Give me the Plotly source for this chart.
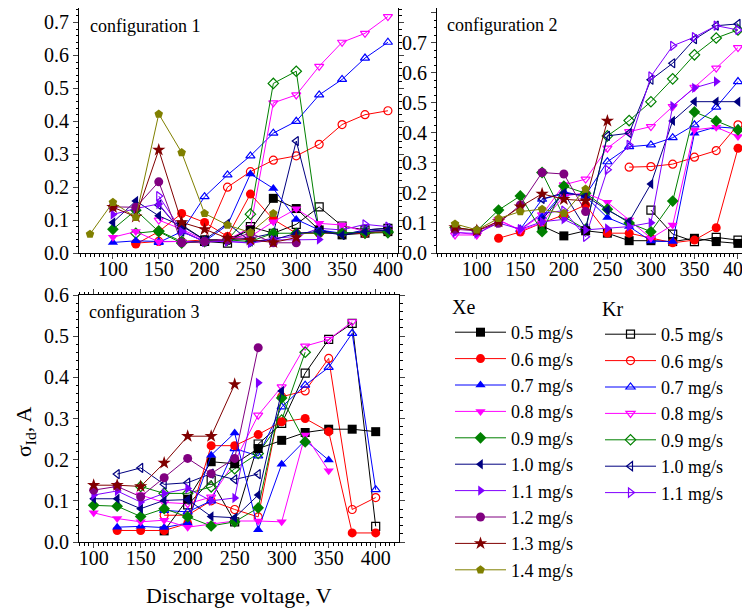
import plotly.graph_objects as go

# Discharge voltage grid (V)
V = [75, 100, 125, 150, 175, 200, 225, 250, 275, 300, 325, 350, 375, 400]
N = None

# ---------------- configuration 1 ----------------
c1_xe_05 = [N, N, N, N, 0.085, 0.04, 0.04, 0.07, 0.166, 0.135, 0.07, 0.055, 0.06, 0.065]
c1_xe_06 = [N, N, 0.027, 0.065, 0.12, 0.093, 0.05, 0.179, 0.102, 0.06, 0.06, 0.06, 0.06, 0.065]
c1_xe_07 = [N, 0.032, 0.037, 0.035, 0.035, 0.035, 0.085, 0.24, 0.196, 0.102, 0.07, 0.06, 0.065, 0.07]
c1_xe_08 = [N, 0.048, 0.065, 0.034, 0.035, 0.03, 0.045, 0.05, 0.095, 0.134, 0.09, 0.085, 0.065, 0.065]
c1_xe_09 = [N, 0.072, 0.13, 0.065, 0.03, 0.035, 0.04, 0.035, 0.06, 0.06, 0.06, 0.06, 0.062, 0.065]
c1_xe_10 = [N, 0.093, 0.158, 0.113, 0.082, 0.04, 0.09, 0.035, 0.04, 0.06, 0.065, 0.055, 0.065, 0.07]
c1_xe_11 = [N, 0.117, 0.135, 0.149, 0.065, 0.035, 0.035, 0.03, 0.04, 0.04, 0.041, N, N, N]
c1_xe_12 = [N, 0.14, 0.139, 0.216, 0.031, 0.035, 0.04, 0.06, 0.031, 0.031, N, N, N, N]
c1_xe_13 = [N, 0.139, 0.11, 0.313, 0.093, 0.072, 0.045, 0.04, 0.032, 0.047, N, N, N, N]
c1_xe_14 = [0.057, 0.154, 0.108, 0.422, 0.305, 0.12, 0.085, 0.062, 0.12, N, N, N, N, N]
c1_kr_05 = [N, N, N, N, N, 0.035, 0.03, 0.08, 0.06, 0.087, 0.14, 0.082, 0.07, 0.075]
c1_kr_06 = [N, N, 0.03, 0.035, 0.035, 0.04, 0.2, 0.247, 0.282, 0.295, 0.33, 0.39, 0.42, 0.432]
c1_kr_07 = [N, N, N, 0.032, 0.065, 0.171, 0.237, 0.295, 0.364, 0.40, 0.48, 0.527, 0.592, 0.64]
c1_kr_08 = [N, N, N, 0.1, 0.072, 0.04, 0.04, 0.077, 0.456, 0.48, 0.567, 0.64, 0.667, 0.718]
c1_kr_09 = [N, N, 0.06, 0.067, 0.035, 0.035, 0.04, 0.118, 0.515, 0.552, 0.065, 0.06, 0.06, 0.062]
c1_kr_10 = [N, N, N, 0.146, 0.065, 0.035, 0.04, 0.045, 0.06, 0.34, 0.07, 0.055, 0.07, 0.075]
c1_kr_11 = [N, N, N, 0.173, 0.068, 0.034, 0.035, 0.032, 0.045, 0.05, 0.075, 0.07, 0.087, 0.08]

# ---------------- configuration 2 ----------------
c2_xe_05 = [N, N, N, N, 0.09, 0.057, 0.074, 0.066, 0.041, 0.041, 0.038, 0.049, 0.038, 0.032]
c2_xe_06 = [N, N, 0.049, 0.07, 0.1, 0.127, 0.16, 0.066, 0.066, 0.049, 0.034, 0.043, 0.084, 0.349]
c2_xe_07 = [N, N, N, N, 0.12, 0.204, 0.188, 0.118, 0.088, 0.04, 0.038, 0.399, 0.42, 0.415]
c2_xe_08 = [0.07, 0.06, 0.11, 0.075, 0.1, 0.19, 0.2, 0.169, 0.11, 0.049, 0.093, 0.41, 0.419, 0.388]
c2_xe_09 = [0.085, 0.074, 0.143, 0.19, 0.071, 0.223, 0.199, 0.146, 0.1, 0.071, 0.173, 0.47, 0.44, 0.41]
c2_xe_10 = [N, N, N, N, 0.11, 0.2, 0.19, 0.143, 0.104, 0.23, 0.44, 0.504, 0.504, 0.504]
c2_xe_11 = [0.068, 0.065, 0.1, 0.079, 0.104, 0.112, 0.077, 0.082, 0.088, 0.101, 0.49, 0.55, 0.571, N]
c2_xe_12 = [0.079, 0.074, 0.099, 0.16, 0.268, 0.263, 0.138, N, N, N, N, N, N, N]
c2_xe_13 = [0.085, 0.075, 0.105, 0.154, 0.197, 0.179, 0.174, 0.44, N, N, N, N, N, N]
c2_xe_14 = [0.097, 0.077, 0.115, 0.138, 0.146, 0.132, 0.213, N, N, N, N, N, N, N]
c2_kr_05 = [N, N, N, N, N, N, N, N, N, 0.143, 0.063, 0.038, 0.052, 0.043]
c2_kr_06 = [N, N, N, N, N, N, N, N, 0.286, 0.288, 0.296, 0.319, 0.341, 0.427]
c2_kr_07 = [N, N, N, 0.079, 0.179, 0.197, 0.193, 0.304, 0.354, 0.36, 0.384, 0.427, 0.486, 0.571]
c2_kr_08 = [0.06, 0.06, 0.11, 0.077, 0.127, 0.227, 0.246, 0.349, 0.404, 0.421, 0.488, 0.552, 0.616, 0.684]
c2_kr_09 = [N, N, N, N, 0.268, 0.121, 0.079, 0.39, 0.441, 0.504, 0.58, 0.66, 0.716, 0.743]
c2_kr_10 = [N, N, N, N, 0.18, 0.2, 0.082, 0.39, 0.399, 0.577, 0.632, 0.712, 0.757, 0.763]
c2_kr_11 = [N, N, N, 0.079, 0.132, 0.141, 0.054, 0.277, 0.36, 0.588, 0.69, 0.719, 0.757, 0.743]

# ---------------- configuration 3 ----------------
c3_xe_05 = [N, N, N, N, 0.027, 0.104, 0.195, 0.19, 0.227, 0.247, 0.266, 0.274, 0.274, 0.268]
c3_xe_06 = [N, N, 0.028, 0.028, 0.028, 0.045, 0.234, 0.234, 0.261, 0.292, 0.3, 0.268, 0.022, 0.022]
c3_xe_07 = [N, N, 0.036, 0.038, 0.035, 0.046, 0.211, 0.265, 0.03, 0.189, 0.247, 0.199, N, N]
c3_xe_08 = [N, 0.071, 0.057, 0.049, 0.053, 0.036, 0.043, 0.051, 0.051, 0.049, 0.26, 0.173, N, N]
c3_xe_09 = [N, 0.089, 0.087, 0.062, 0.081, 0.061, 0.039, 0.049, 0.083, 0.35, 0.243, N, N, N]
c3_xe_10 = [N, 0.105, 0.105, 0.081, 0.101, 0.103, 0.062, 0.059, 0.114, 0.367, N, N, N, N]
c3_xe_11 = [N, 0.114, 0.124, 0.097, 0.118, 0.13, 0.1, 0.107, 0.387, N, N, N, N, N]
c3_xe_12 = [N, 0.126, 0.135, 0.11, 0.156, 0.203, 0.166, 0.203, 0.472, N, N, N, N, N]
c3_xe_13 = [N, 0.138, 0.138, 0.135, 0.192, 0.257, 0.257, 0.383, N, N, N, N, N, N]
c3_kr_05 = [N, N, N, N, N, 0.09, 0.15, 0.049, 0.238, 0.288, 0.41, 0.492, 0.531, 0.038]
c3_kr_06 = [N, N, N, N, 0.065, 0.065, 0.1, 0.079, 0.061, 0.353, 0.367, 0.446, 0.079, 0.108]
c3_kr_07 = [N, N, N, N, 0.077, 0.073, 0.1, 0.227, 0.209, 0.328, 0.381, 0.424, 0.507, 0.127]
c3_kr_08 = [N, N, N, 0.114, 0.096, 0.093, 0.109, 0.195, 0.308, 0.377, 0.476, 0.492, 0.535, N]
c3_kr_09 = [N, N, N, 0.135, 0.118, 0.118, 0.134, 0.178, 0.215, 0.296, 0.461, N, N, N]
c3_kr_10 = [N, N, 0.165, 0.18, 0.14, 0.144, 0.166, 0.152, 0.165, N, N, N, N, N]

XE_LABELS = ["0.5 mg/s", "0.6 mg/s", "0.7 mg/s", "0.8 mg/s", "0.9 mg/s",
             "1.0 mg/s", "1.1 mg/s", "1.2 mg/s", "1.3 mg/s", "1.4 mg/s"]
KR_LABELS = ["0.5 mg/s", "0.6 mg/s", "0.7 mg/s", "0.8 mg/s", "0.9 mg/s",
             "1.0 mg/s", "1.1 mg/s"]

XE_COLORS = ["#000000", "#FF0000", "#0000FF", "#FF00FF", "#008000",
             "#000080", "#8000FF", "#800080", "#800000", "#808000"]
XE_SYMBOLS = ["square", "circle", "triangle-up", "triangle-down", "diamond",
              "triangle-left", "triangle-right", "circle", "star", "pentagon"]
KR_COLORS = ["#000000", "#FF0000", "#0000FF", "#FF00FF", "#008000",
             "#000080", "#8000FF"]
KR_SYMBOLS = ["square-open", "circle-open", "triangle-up-open", "triangle-down-open",
              "diamond-open", "triangle-left-open", "triangle-right-open"]

panels = [
    ("x", "y", [c1_xe_05, c1_xe_06, c1_xe_07, c1_xe_08, c1_xe_09, c1_xe_10, c1_xe_11, c1_xe_12, c1_xe_13, c1_xe_14],
     [c1_kr_05, c1_kr_06, c1_kr_07, c1_kr_08, c1_kr_09, c1_kr_10, c1_kr_11]),
    ("x2", "y2", [c2_xe_05, c2_xe_06, c2_xe_07, c2_xe_08, c2_xe_09, c2_xe_10, c2_xe_11, c2_xe_12, c2_xe_13, c2_xe_14],
     [c2_kr_05, c2_kr_06, c2_kr_07, c2_kr_08, c2_kr_09, c2_kr_10, c2_kr_11]),
    ("x3", "y3", [c3_xe_05, c3_xe_06, c3_xe_07, c3_xe_08, c3_xe_09, c3_xe_10, c3_xe_11, c3_xe_12, c3_xe_13],
     [c3_kr_05, c3_kr_06, c3_kr_07, c3_kr_08, c3_kr_09, c3_kr_10]),
]

fig = go.Figure()
for pi, (xa, ya, xe_list, kr_list) in enumerate(panels):
    for i, ys in enumerate(kr_list):
        fig.add_trace(go.Scatter(
            x=V, y=ys, xaxis=xa, yaxis=ya, mode="lines+markers", connectgaps=True,
            name=KR_LABELS[i], legend="legend2", showlegend=(pi == 0),
            line=dict(color=KR_COLORS[i], width=1),
            marker=dict(symbol=KR_SYMBOLS[i], color=KR_COLORS[i], size=8,
                        line=dict(color=KR_COLORS[i], width=1.2))))
    for i, ys in enumerate(xe_list):
        fig.add_trace(go.Scatter(
            x=V, y=ys, xaxis=xa, yaxis=ya, mode="lines+markers", connectgaps=True,
            name=XE_LABELS[i], legend="legend", showlegend=(pi == 0),
            line=dict(color=XE_COLORS[i], width=1),
            marker=dict(symbol=XE_SYMBOLS[i], color=XE_COLORS[i], size=9 if XE_SYMBOLS[i] != "star" else 10,
                        line=dict(width=0))))

FONT = "Liberation Serif, Times New Roman, serif"
W, H = 750, 613
OFF = 8  # page body margin of the html page


def fx(p):
    return min(1.0, max(0.0, (p - OFF) / W))


def fy(p):
    return min(1.0, max(0.0, 1 - (p - OFF) / H))


def xaxis(a, b, rng, anchor):
    return dict(domain=[fx(a), fx(b)], range=rng, anchor=anchor, tickvals=[100, 150, 200, 250, 300, 350, 400],
                ticks="outside", ticklen=5, tickwidth=1, showline=True, linecolor="black", linewidth=1,
                mirror="allticks", showgrid=False, zeroline=False, automargin=False,
                ticklabelstandoff=-7,
                minor=dict(dtick=5, tick0=0, ticks="outside", ticklen=2.5, tickcolor="black"),
                tickfont=dict(family=FONT, size=20, color="black"))


def yaxis(top, bottom, rng, anchor, dtick, mdt):
    return dict(domain=[fy(bottom), fy(top)], range=rng, anchor=anchor, dtick=dtick, tick0=0, tickformat=".1f",
                ticks="outside", ticklen=5, tickwidth=1, showline=True, linecolor="black", linewidth=1,
                mirror="allticks", showgrid=False, zeroline=False, automargin=False,
                minor=dict(dtick=mdt, tick0=0, ticks="outside", ticklen=2.5, tickcolor="black"),
                tickfont=dict(family=FONT, size=20, color="black"))


fig.update_layout(
    width=W, height=H, margin=dict(l=0, r=0, t=0, b=0, autoexpand=False),
    paper_bgcolor="white", plot_bgcolor="white",
    font=dict(family=FONT, size=18, color="black"),
    xaxis=xaxis(79, 398, [63, 411], "y"),
    yaxis=yaxis(8, 253, [0, 0.744], "x", 0.1, 0.02),
    xaxis2=xaxis(437, 748, [54.3, 411.5], "y2"),
    yaxis2=yaxis(8, 253, [0, 0.816], "x2", 0.1, 0.025),
    xaxis3=xaxis(79, 399, [84.4, 424.8], "y3"),
    yaxis3=yaxis(295, 542, [0, 0.6], "x3", 0.1, 0.02),
    legend=dict(title=dict(text="Xe", font=dict(family=FONT, size=20)), x=fx(450), y=fy(288),
                xanchor="left", yanchor="top", font=dict(family=FONT, size=18), bgcolor="rgba(0,0,0,0)",
                tracegroupgap=0, traceorder="normal", itemwidth=51),
    legend2=dict(title=dict(text="Kr", font=dict(family=FONT, size=20)), x=fx(600), y=fy(290),
                 xanchor="left", yanchor="top", font=dict(family=FONT, size=18), bgcolor="rgba(0,0,0,0)",
                 tracegroupgap=0, traceorder="normal", itemwidth=51),
    annotations=[
        dict(text="configuration 1", xref="x domain", yref="y domain", x=0.028, y=0.927,
             xanchor="left", yanchor="middle", showarrow=False, font=dict(family=FONT, size=18)),
        dict(text="configuration 2", xref="x2 domain", yref="y2 domain", x=0.026, y=0.93,
             xanchor="left", yanchor="middle", showarrow=False, font=dict(family=FONT, size=18)),
        dict(text="configuration 3", xref="x3 domain", yref="y3 domain", x=0.025, y=0.931,
             xanchor="left", yanchor="middle", showarrow=False, font=dict(family=FONT, size=18)),
        dict(text="Discharge voltage, V", xref="paper", yref="paper", x=fx(239), y=fy(595),
             xanchor="center", yanchor="middle", showarrow=False, font=dict(family=FONT, size=22)),
        dict(text="σ<sub>Id</sub>, A", xref="paper", yref="paper", x=fx(25), y=fy(432),
             xanchor="center", yanchor="middle", textangle=-90, showarrow=False,
             font=dict(family=FONT, size=22)),
    ],
)

fig.write_html("out.html")
